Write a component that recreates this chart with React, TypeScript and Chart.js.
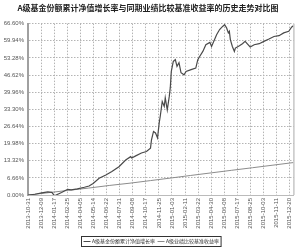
import React, { useEffect, useRef } from "react";
import { Chart, registerables } from "chart.js";

Chart.register(...registerables);

const chartTitle = "A级基金份额累计净值增长率与同期业绩比较基准收益率的历史走势对比图";
const seriesNames = ["A级基金份额累计净值增长率", "A级业绩比较基准收益率"];

const xTickLabels = [
  "2013-10-31", "2013-12-09", "2014-01-17", "2014-02-25", "2014-04-05", "2014-05-14",
  "2014-06-22", "2014-07-31", "2014-09-08", "2014-10-17", "2014-11-25", "2015-01-03",
  "2015-02-11", "2015-03-22", "2015-04-30", "2015-06-08", "2015-07-17", "2015-08-25",
  "2015-10-03", "2015-11-11", "2015-12-20",
];
const yTickValues = [0, 6.66, 13.32, 19.98, 26.64, 33.3, 39.96, 46.62, 53.28, 59.94, 66.6];
const startDate = "2013-10-31";
const endDate = "2015-12-31";

const fundDates = [
  "2013-10-31", "2013-11-21", "2013-12-11", "2013-12-29", "2014-01-10", "2014-01-18",
  "2014-02-08", "2014-02-26", "2014-03-09", "2014-03-27", "2014-04-17", "2014-05-01",
  "2014-05-13", "2014-05-31", "2014-06-20", "2014-07-08", "2014-07-29", "2014-08-18",
  "2014-09-02", "2014-09-05", "2014-09-17", "2014-10-04", "2014-10-19", "2014-10-31",
  "2014-11-03", "2014-11-09", "2014-11-15", "2014-11-21", "2014-11-26", "2014-11-29",
  "2014-12-05", "2014-12-11", "2014-12-14", "2014-12-20", "2014-12-26", "2014-12-29",
  "2015-01-01", "2015-01-07", "2015-01-13", "2015-01-18", "2015-01-24", "2015-01-30",
  "2015-02-08", "2015-02-14", "2015-03-01", "2015-03-15", "2015-03-21", "2015-03-27",
  "2015-04-05", "2015-04-14", "2015-04-26", "2015-05-01", "2015-05-10", "2015-05-16",
  "2015-05-25", "2015-06-03", "2015-06-09", "2015-06-15", "2015-06-20", "2015-06-23",
  "2015-06-26", "2015-07-02", "2015-07-08", "2015-07-11", "2015-07-23", "2015-08-01",
  "2015-08-09", "2015-08-15", "2015-08-24", "2015-09-05", "2015-09-20", "2015-10-04",
  "2015-10-19", "2015-11-03", "2015-11-18", "2015-12-02", "2015-12-17", "2015-12-26",
  "2015-12-31",
];
const fundValues = [
  0, 0.3, 0.8, 1.2, 1.0, -0.3,
  1.0, 2.2, 2.0, 2.4, 3.0, 3.5,
  4.5, 6.5, 7.8, 9.1, 11.0, 13.6,
  14.9, 14.4, 15.2, 16.3, 16.9, 18.2,
  21.4, 24.7, 24.1, 22.2, 28.0, 30.5,
  36.3, 34.4, 37.8, 33.1, 38.3, 41.7,
  48.0, 51.9, 52.6, 50.0, 51.4, 47.5,
  46.7, 48.0, 48.7, 49.3, 52.6, 53.9,
  55.8, 58.4, 59.3, 57.7, 60.4, 62.3,
  64.3, 65.5, 66.2, 64.9, 63.0, 63.6,
  60.4, 57.7, 55.8, 57.1, 58.0, 58.8,
  59.7, 58.8, 57.5, 58.4, 58.8, 59.7,
  60.6, 61.6, 61.9, 63.0, 63.6, 65.3,
  65.8,
];

const benchDates = [
  "2013-10-31", "2013-12-31", "2014-02-28", "2014-04-30", "2014-06-30", "2014-08-31",
  "2014-10-31", "2014-12-31", "2015-02-28", "2015-04-30", "2015-06-30", "2015-08-31",
  "2015-10-31", "2015-12-31",
];
const benchValues = [0, 0.9, 1.8, 2.7, 3.7, 4.6, 5.6, 6.6, 7.6, 8.6, 9.6, 10.6, 11.6, 12.6];

const dayOf = (s: string) => {
  const [y, m, d] = s.split("-").map(Number);
  const [y0, m0, d0] = startDate.split("-").map(Number);
  return Math.round((Date.UTC(y, m - 1, d) - Date.UTC(y0, m0 - 1, d0)) / 86400000);
};

const legendPlugin = {
  id: "boxLegend",
  afterDraw(chart: any) {
    const ctx = chart.ctx;
    const items = chart.data.datasets.map((ds: any) => ({ label: ds.label, color: ds.borderColor }));
    ctx.save();
    ctx.font = "5px 'Noto Sans CJK SC'";
    const lineW = 7;
    const gap = 1.5;
    const itemGap = 2.5;
    const widths = items.map((it: any) => lineW + gap + ctx.measureText(it.label).width);
    const total = widths.reduce((a: number, b: number) => a + b, 0) + itemGap * (items.length - 1);
    const padX = 2;
    const boxW = total + padX * 2;
    const boxH = 10;
    const cx = 151;
    const bx = Math.round(cx - boxW / 2) + 0.5;
    const by = 236.5;
    ctx.strokeStyle = "#333";
    ctx.lineWidth = 1;
    ctx.strokeRect(bx, by, boxW, boxH);
    let x = bx + padX;
    const cy = by + boxH / 2;
    items.forEach((it: any, i: number) => {
      ctx.strokeStyle = it.color;
      ctx.lineWidth = 1;
      ctx.beginPath();
      ctx.moveTo(x, cy);
      ctx.lineTo(x + lineW, cy);
      ctx.stroke();
      ctx.fillStyle = "#333";
      ctx.textBaseline = "middle";
      ctx.textAlign = "left";
      ctx.fillText(it.label, x + lineW + gap, cy);
      x += widths[i] + itemGap;
    });
    ctx.restore();
  },
};

const borderPlugin = {
  id: "rightBorder",
  afterDatasetsDraw(chart: any) {
    const { ctx, chartArea } = chart;
    ctx.save();
    ctx.strokeStyle = "#aaa";
    ctx.lineWidth = 1;
    ctx.beginPath();
    ctx.moveTo(chartArea.right + 0.5, chartArea.top);
    ctx.lineTo(chartArea.right + 0.5, chartArea.bottom);
    ctx.stroke();
    ctx.restore();
  },
};

export default function App() {
  const ref = useRef<HTMLCanvasElement>(null);
  useEffect(() => {
    document.body.style.margin = "0";
    const canvas = ref.current!;
    const chart = new Chart(canvas, {
      type: "line",
      data: {
        datasets: [
          {
            label: seriesNames[0],
            data: fundDates.map((d, i) => ({ x: dayOf(d), y: fundValues[i] })),
            borderColor: "#4a4a4a",
            borderWidth: 1.2,
            pointRadius: 0,
            tension: 0,
          },
          {
            label: seriesNames[1],
            data: benchDates.map((d, i) => ({ x: dayOf(d), y: benchValues[i] })),
            borderColor: "#8c8c8c",
            borderWidth: 1,
            pointRadius: 0,
            tension: 0,
          },
        ],
      },
      options: {
        animation: false,
        responsive: false,
        maintainAspectRatio: false,
        layout: { padding: { left: 0, right: 4, top: 0, bottom: 16 } },
        plugins: {
          legend: { display: false },
          tooltip: { enabled: false },
          title: {
            display: true,
            text: chartTitle,
            color: "#222",
            font: { family: "'Noto Sans CJK SC'", size: 8, weight: "bold", lineHeight: 1.2 },
            padding: { top: 3, bottom: 11 },
          },
        },
        scales: {
          x: {
            type: "linear",
            min: 0,
            max: dayOf(endDate),
            afterBuildTicks: (scale: any) => {
              scale.ticks = xTickLabels.map((s) => ({ value: dayOf(s) }));
            },
            afterFit: (scale: any) => {
              scale.height = 37;
            },
            ticks: {
              autoSkip: false,
              minRotation: 90,
              maxRotation: 90,
              padding: 3,
              color: "#555",
              font: { family: "'Liberation Sans'", size: 6 },
              callback: (v: any) => {
                const idx = xTickLabels.findIndex((s) => dayOf(s) === v);
                return idx >= 0 ? xTickLabels[idx] : "";
              },
            },
            grid: {
              color: "#b4b4b4",
              lineWidth: 1,
              drawTicks: false,
            },
            border: { display: true, color: "#bbb", width: 1, dash: [1.5, 1.5] },
          },
          y: {
            type: "linear",
            min: 0,
            max: 66.6,
            afterBuildTicks: (scale: any) => {
              scale.ticks = yTickValues.map((v) => ({ value: v }));
            },
            afterFit: (scale: any) => {
              scale.width = 28;
            },
            ticks: {
              padding: 4,
              color: "#555",
              font: { family: "'Liberation Sans'", size: 6 },
              callback: (v: any) => Number(v).toFixed(2) + "%",
            },
            grid: {
              color: "#b4b4b4",
              lineWidth: 1,
              drawTicks: false,
            },
            border: { display: true, color: "#a0a0a0", width: 2, dash: [1.5, 1.5] },
          },
        },
      },
      plugins: [legendPlugin, borderPlugin],
    } as any);
    return () => chart.destroy();
  }, []);
  return (
    <div style={{ width: 300, height: 248 }}>
      <canvas ref={ref} width={300} height={248} style={{ display: "block", width: 300, height: 248 }} />
    </div>
  );
}
